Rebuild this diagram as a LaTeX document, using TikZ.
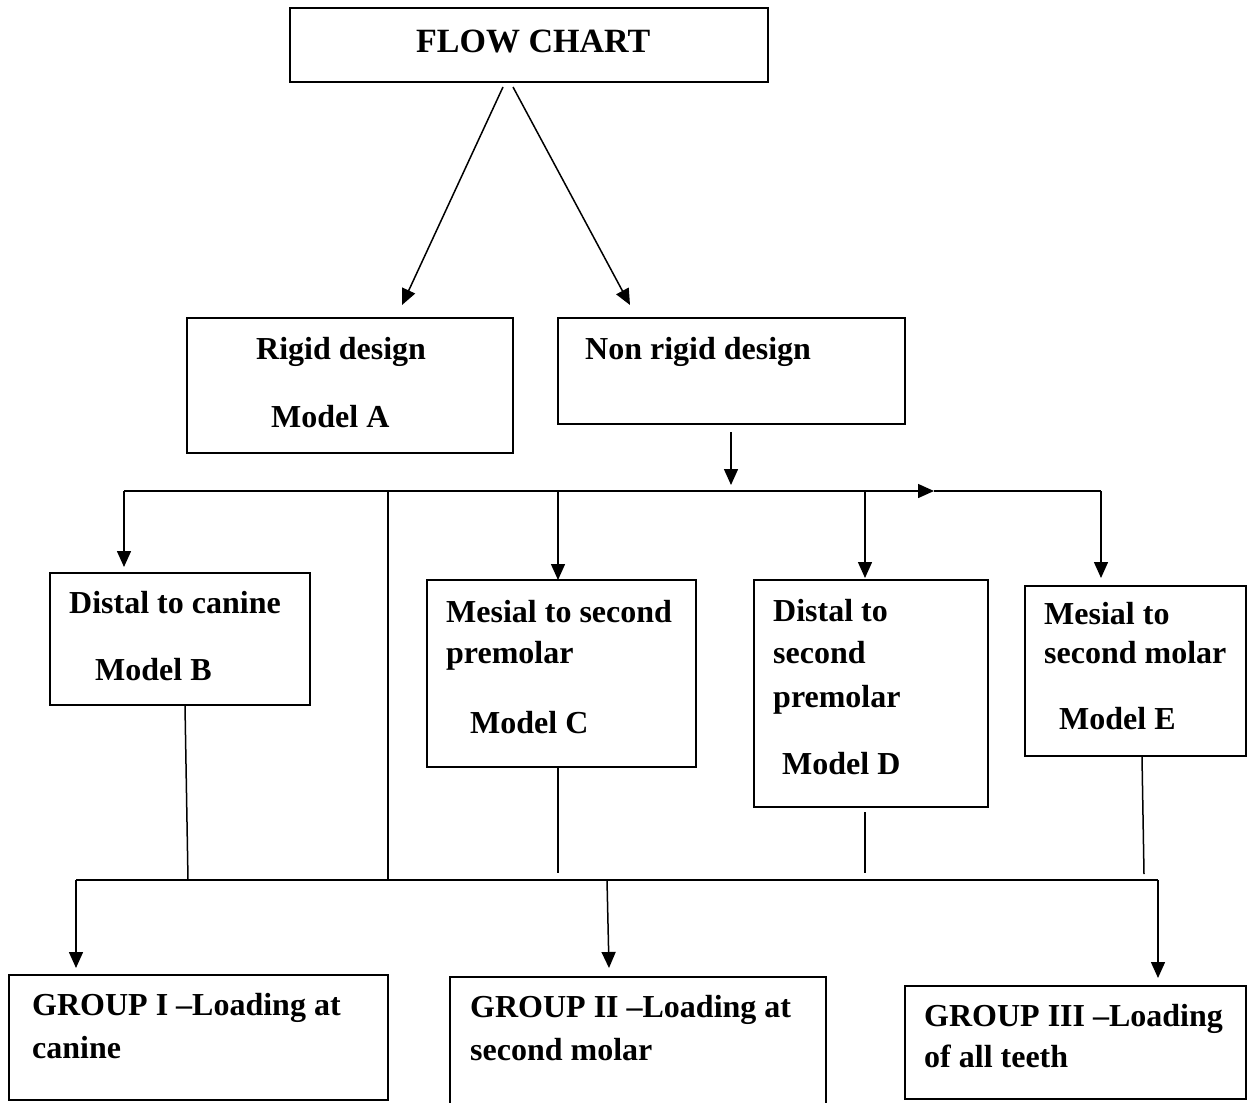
\documentclass[tikz,border=0pt]{standalone}
\usepackage{fontspec}
\setmainfont{Liberation Serif}
\usetikzlibrary{arrows.meta}
\begin{document}
\begin{tikzpicture}[x=1pt,y=-1pt,
  box/.style={draw, line width=1.6pt, rectangle, inner sep=0pt},
  txt/.style={anchor=base west, inner sep=0pt, font=\fontsize{32}{38}\selectfont\bfseries},
  ttl/.style={anchor=base west, inner sep=0pt, font=\fontsize{34}{40}\selectfont\bfseries},
  conn/.style={line width=1.5pt},
  arr/.style={line width=1.5pt, -{Triangle[length=16pt,width=14pt]}}
]
\useasboundingbox (0,0) rectangle (1248,1103);
\fill[white] (0,0) rectangle (1248,1103);

% boxes
\node[box, minimum width=478, minimum height=74] (fc) at (529,45) {};
\node[box, minimum width=326, minimum height=135] (rigid) at (350,385.5) {};
\node[box, minimum width=347, minimum height=106] (nonrigid) at (731.5,371) {};
\node[box, minimum width=260, minimum height=132] (boxB) at (180,639) {};
\node[box, minimum width=269, minimum height=187] (boxC) at (561.5,673.5) {};
\node[box, minimum width=234, minimum height=227] (boxD) at (871,693.5) {};
\node[box, minimum width=221, minimum height=170] (boxE) at (1135.5,671) {};
\node[box, minimum width=379, minimum height=125] (g1) at (198.5,1037.5) {};
\node[box, minimum width=376, minimum height=138] (g2) at (638,1046) {};
\node[box, minimum width=341, minimum height=113] (g3) at (1075.5,1042.5) {};

% texts
\node[ttl] (tfc) at (416,52) {FLOW CHART};
\node[txt] (tA1) at (256,359) {Rigid design};
\node[txt] (tA2) at (271,427) {Model A};
\node[txt] (tN1) at (585,359) {Non rigid design};
\node[txt] (tB1) at (69,613) {Distal to canine};
\node[txt] (tB2) at (95,680) {Model B};
\node[txt] (tC1) at (446,622) {Mesial to second};
\node[txt] (tC2) at (446,663) {premolar};
\node[txt] (tC3) at (470,733) {Model C};
\node[txt] (tD1) at (773,621) {Distal to};
\node[txt] (tD2) at (773,663) {second};
\node[txt] (tD3) at (773,707) {premolar};
\node[txt] (tD4) at (782,774) {Model D};
\node[txt] (tE1) at (1044,624) {Mesial to};
\node[txt] (tE2) at (1044,663) {second molar};
\node[txt] (tE3) at (1059,729) {Model E};
\node[txt] (tG11) at (32,1015) {GROUP I –Loading at};
\node[txt] (tG12) at (32,1058) {canine};
\node[txt] (tG21) at (470,1017) {GROUP II –Loading at};
\node[txt] (tG22) at (470,1060) {second molar};
\node[txt] (tG31) at (924,1026) {GROUP III –Loading};
\node[txt] (tG32) at (924,1067) {of all teeth};

% coordinates
\coordinate (fcL) at (503,87);
\coordinate (fcR) at (513,87);
\coordinate (rigT) at (402,305);
\coordinate (nrT) at (630,305);
\coordinate (nrB) at (731,432);
\coordinate (busTip) at (731,485);
\coordinate (bus1) at (124,491);
\coordinate (bus2) at (388,491);
\coordinate (bus3) at (558,491);
\coordinate (bus4) at (865,491);
\coordinate (busM) at (934,491);
\coordinate (bus5) at (1101,491);
\coordinate (tipB) at (124,567);
\coordinate (tipC) at (558,580);
\coordinate (tipD) at (865,578);
\coordinate (tipE) at (1101,578);
\coordinate (bB) at (185,706);
\coordinate (lB) at (188,880);
\coordinate (l2) at (388,880);
\coordinate (bC) at (558,768);
\coordinate (eC) at (558,873);
\coordinate (bD) at (865,812);
\coordinate (eD) at (865,873);
\coordinate (bE) at (1142,757);
\coordinate (eE) at (1144,874);
\coordinate (low1) at (76,880);
\coordinate (low2) at (607,880);
\coordinate (low3) at (1158,880);
\coordinate (tip1) at (76,968);
\coordinate (tip2) at (609,968);
\coordinate (tip3) at (1158,978);

% connectors
\draw[arr] (fcL) -- (rigT);
\draw[arr] (fcR) -- (nrT);
\draw[arr] (nrB) -- (busTip);
\draw[arr] (bus1) -- (busM);
\draw[conn] (busM) -- (bus5);
\draw[arr] (bus1) -- (tipB);
\draw[arr] (bus3) -- (tipC);
\draw[arr] (bus4) -- (tipD);
\draw[arr] (bus5) -- (tipE);
\draw[conn] (bus2) -- (l2);
\draw[conn] (bB) -- (lB);
\draw[conn] (bC) -- (eC);
\draw[conn] (bD) -- (eD);
\draw[conn] (bE) -- (eE);
\draw[conn] (low1) -- (low3);
\draw[arr] (low1) -- (tip1);
\draw[arr] (low2) -- (tip2);
\draw[arr] (low3) -- (tip3);
\end{tikzpicture}
\end{document}
